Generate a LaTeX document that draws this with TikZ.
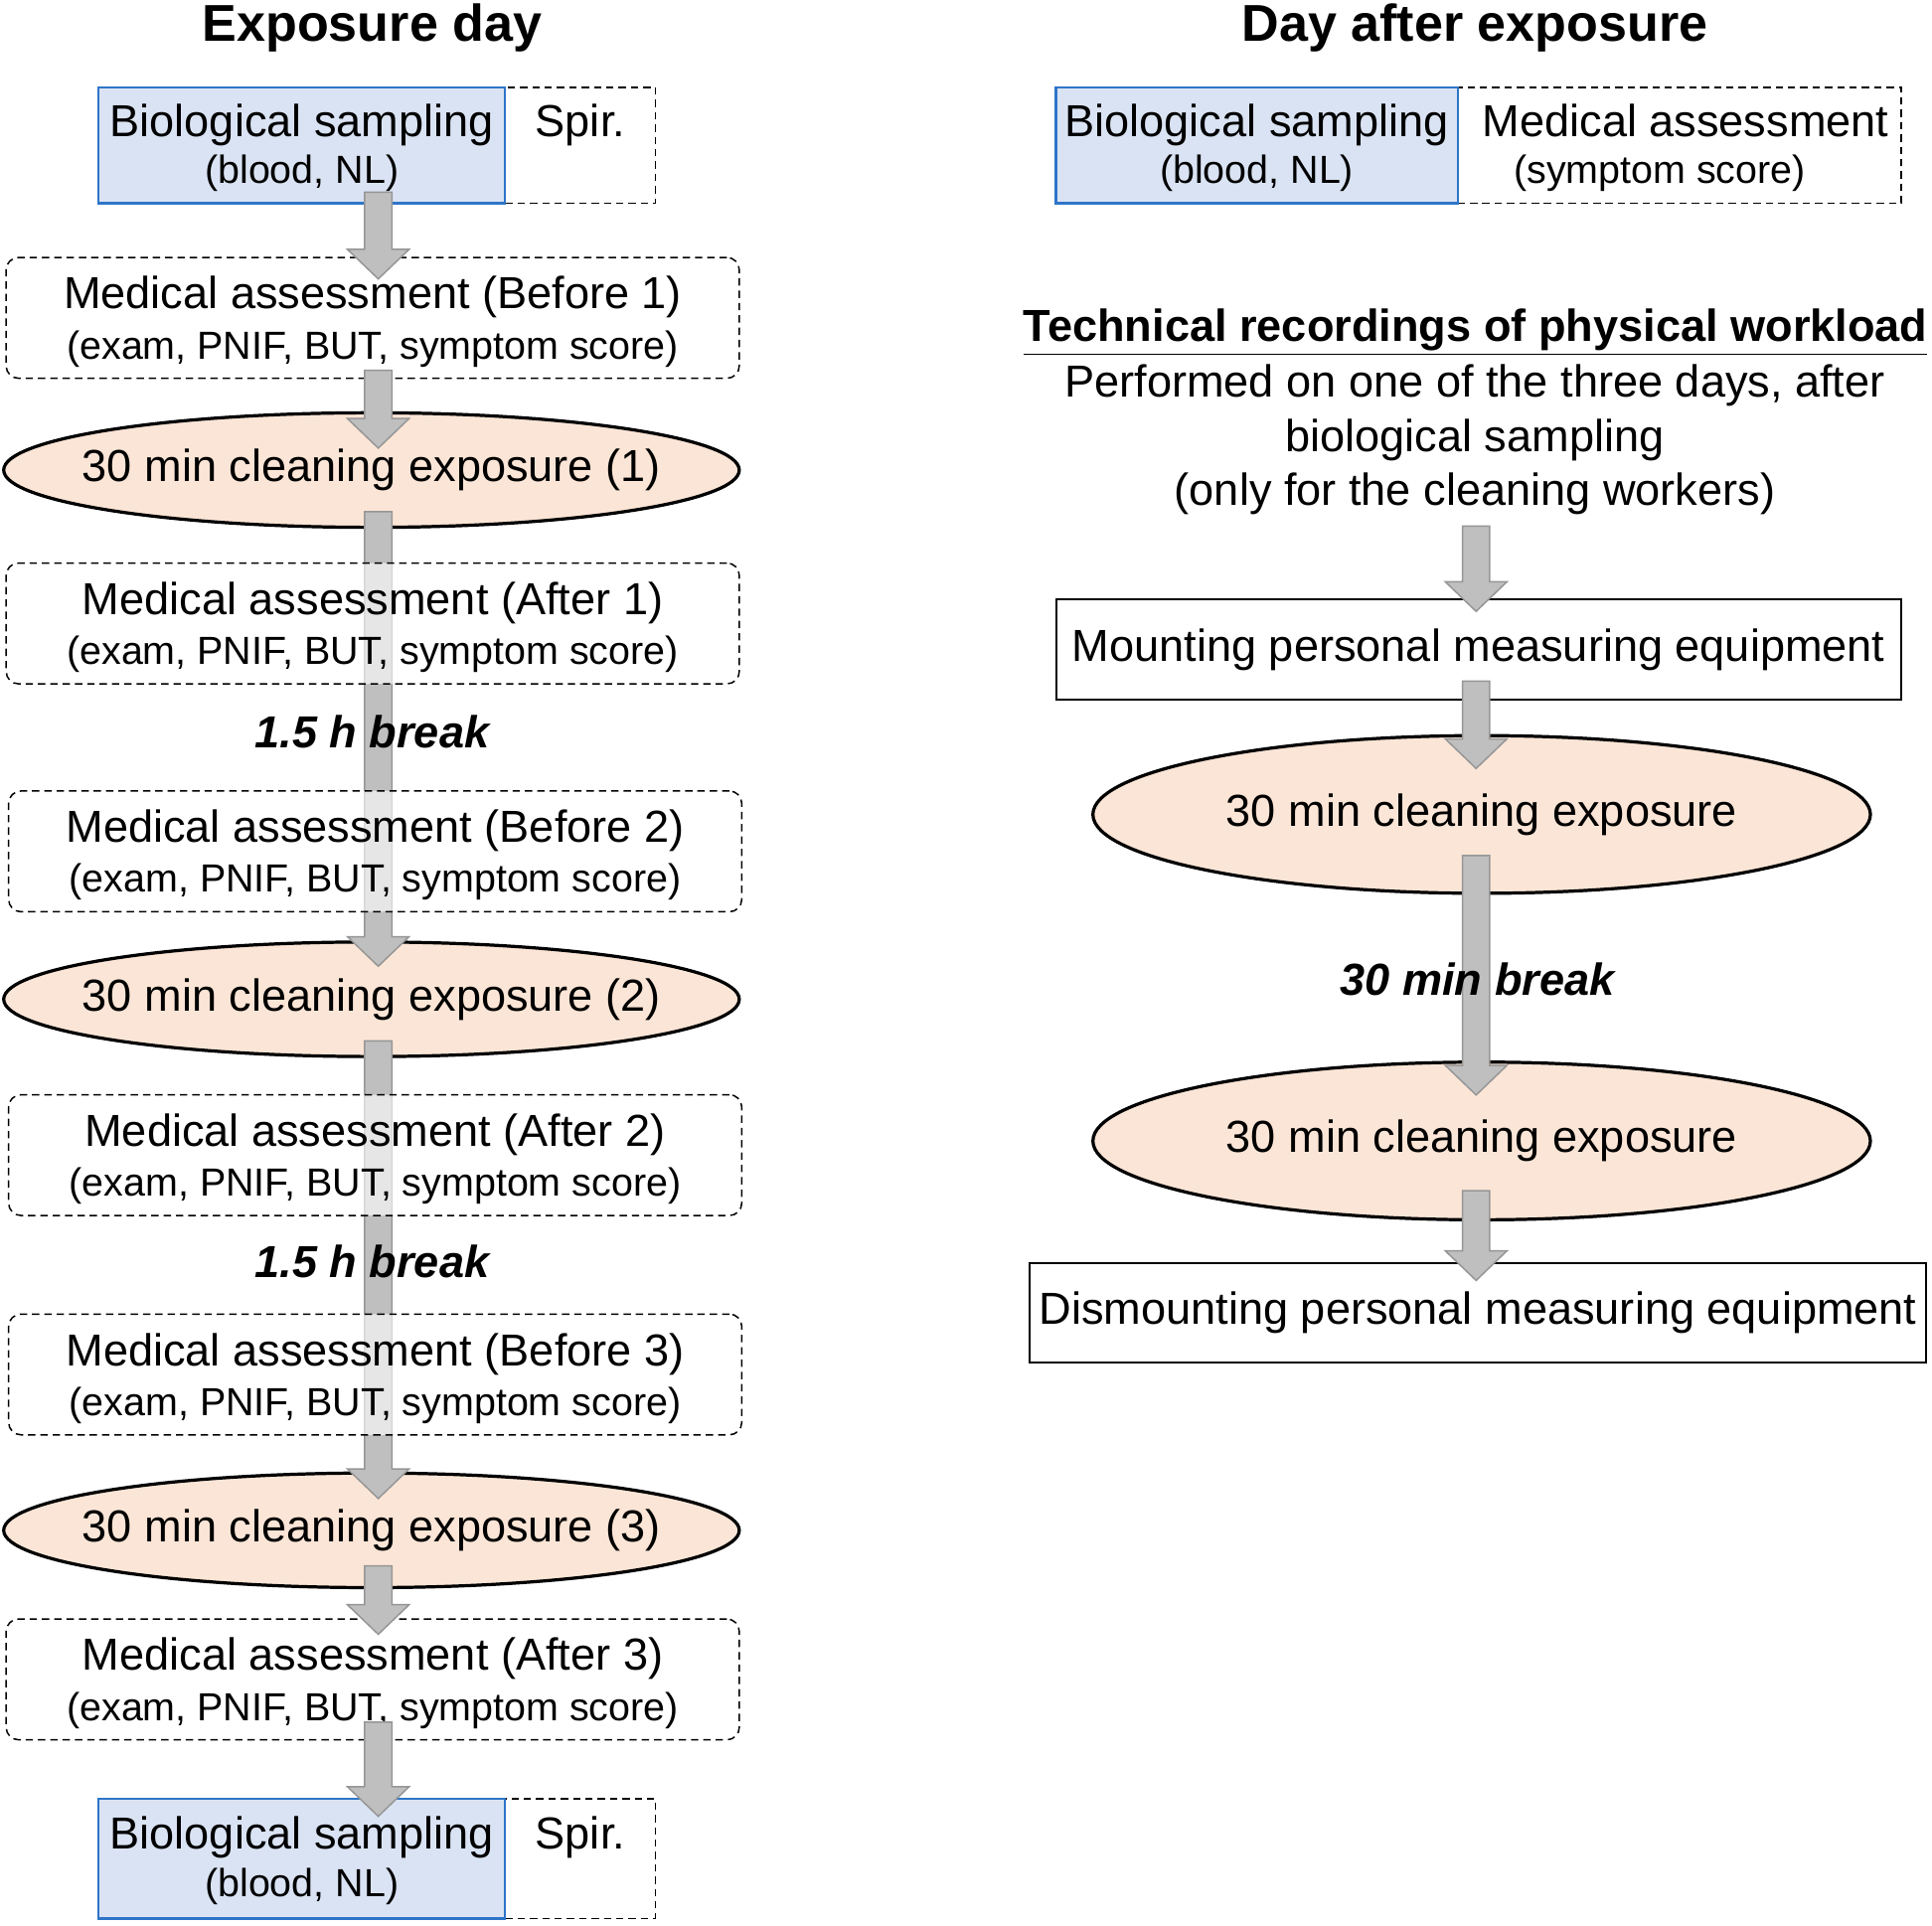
\documentclass[tikz,border=0pt]{standalone}
\usepackage{fontspec}
\setmainfont{Liberation Sans}
\usetikzlibrary{shapes.geometric,calc}
\definecolor{bluefill}{RGB}{218,227,243}
\definecolor{blueline}{RGB}{46,117,200}
\definecolor{peach}{RGB}{251,229,214}
\definecolor{arrfill}{RGB}{191,191,191}
\definecolor{arrline}{RGB}{150,150,150}
\newcommand{\mainsz}{\fontsize{18.2}{21.8}\selectfont}
\newcommand{\subsz}{\fontsize{15.9}{19}\selectfont}
\newcommand{\titlesz}{\fontsize{21}{25}\selectfont\bfseries}
\newcommand{\blockarrow}[2]{%
  \path[fill=arrfill, draw=arrline, line width=0.6pt] let \p1=(#1), \p2=(#2) in
  (\x1-5.5pt,\y1) -- (\x1+5.5pt,\y1) -- (\x1+5.5pt,\y2+12pt) -- (\x1+12.5pt,\y2+12pt)
  -- (\x1,\y2) -- (\x1-12.5pt,\y2+12pt) -- (\x1-5.5pt,\y2+12pt) -- cycle;}
\newcommand{\ellt}[1]{\makebox[0pt]{\raisebox{-1.5pt}{\mainsz #1}}}
\newcommand{\medtxt}[1]{\rule{0pt}{16.3pt}Medical assessment (#1)\\{\subsz (exam, PNIF, BUT, symptom score)}}
\tikzset{
  dashbox/.style={draw=black, dash pattern=on 3pt off 2pt, line width=0.6pt},
  twoline/.style={align=center, inner sep=0pt, font=\fontsize{18.2}{19.2}\selectfont},
  medbox/.style={dashbox, rounded corners=5pt, fill=white, fill opacity=0.62, text opacity=1,
    minimum width=297.5pt, minimum height=49pt, align=center, inner sep=0pt,
    font=\fontsize{18.2}{20.2}\selectfont},
  biobox/.style={draw=blueline, fill=bluefill, line width=0.9pt, twoline},
  expell/.style={ellipse, draw=black, fill=peach, line width=1.3pt, inner sep=0pt},
  solidbox/.style={draw=black, line width=0.8pt, inner sep=0pt, font=\mainsz},
  brk/.style={font=\mainsz\bfseries\itshape},
}
\begin{document}
\begin{tikzpicture}[x=0.5pt,y=-0.5pt]
\fill[white] (0,0) rectangle (1568,1563);
\useasboundingbox (0,0) rectangle (1568,1563);
\coordinate (cL) at (307,0);
\coordinate (cR) at (1198,0);

% titles
\node[font=\titlesz] (t1) at (302,23) {Exposure day};
\node[font=\titlesz] (t2) at (1197,23) {Day after exposure};

% ---------- left column background shapes
\node[dashbox, twoline, minimum width=61pt, minimum height=47pt] (spir1) at (471,118)
  {\rule{0pt}{15pt}Spir.\\{\subsz\vphantom{(b}}};
\node[biobox, minimum width=165pt, minimum height=47pt] (bio1) at (245,118)
  {\rule{0pt}{15pt}Biological sampling\\{\subsz (blood, NL)}};
\node[expell, minimum width=298.5pt, minimum height=46.5pt] (ell1) at (301.5,381.5)
  {\ellt{30 min cleaning exposure (1)}};
\node[expell, minimum width=298.5pt, minimum height=46.5pt] (ell2) at (301.5,811)
  {\ellt{30 min cleaning exposure (2)}};
\node[expell, minimum width=298.5pt, minimum height=46.5pt] (ell3) at (301.5,1242)
  {\ellt{30 min cleaning exposure (3)}};
\node[dashbox, twoline, minimum width=61pt, minimum height=48.5pt] (spir2) at (471,1508.5)
  {\rule{0pt}{15pt}Spir.\\{\subsz\vphantom{(b}}};
\node[biobox, minimum width=165pt, minimum height=48.5pt] (bio2) at (245,1508.5)
  {\rule{0pt}{15pt}Biological sampling\\{\subsz (blood, NL)}};

% long arrows (behind medical boxes)
\blockarrow{$(ell1.south -| cL)+(0,-14)$}{$(ell2.north -| cL)+(0,21)$}
\blockarrow{$(ell2.south -| cL)+(0,-14)$}{$(ell3.north -| cL)+(0,22)$}

% medical boxes
\node[medbox] (med1) at (302.5,258) {\medtxt{Before 1}};
\node[medbox] (med2) at (302.5,506) {\medtxt{After 1}};
\node[medbox] (med3) at (304.5,691) {\medtxt{Before 2}};
\node[medbox] (med4) at (304.5,937.5) {\medtxt{After 2}};
\node[medbox] (med5) at (304.5,1115.5) {\medtxt{Before 3}};
\node[medbox] (med6) at (302.5,1363) {\medtxt{After 3}};

% short arrows
\blockarrow{$(bio1.south -| cL)+(0,-10)$}{$(med1.north -| cL)+(0,18)$}
\blockarrow{$(med1.south -| cL)+(0,-7)$}{$(ell1.north -| cL)+(0,30)$}
\blockarrow{$(ell3.south -| cL)+(0,-19)$}{$(med6.north -| cL)+(0,13)$}
\blockarrow{$(med6.south -| cL)+(0,-15)$}{$(bio2.north -| cL)+(0,15)$}

\node[brk] (brk1) at (302,594) {1.5 h break};
\node[brk] (brk2) at (302,1024) {1.5 h break};

% ---------- right column
\node[dashbox, twoline, minimum width=180pt, minimum height=47pt] (medR) at (1363,118)
  {\rule{0pt}{15pt}\hspace*{5pt}Medical assessment\\{\subsz (symptom score)\hspace*{16pt}}};
\node[biobox, minimum width=163pt, minimum height=47pt] (bioR) at (1020,118)
  {\rule{0pt}{15pt}Biological sampling\\{\subsz (blood, NL)}};

\node[font=\mainsz\bfseries, inner sep=0pt] (tech) at (1197.5,270) {\underline{Technical recordings of physical workload}};
\node[font=\mainsz, inner sep=0pt] (perf) at (1197,313) {Performed on one of the three days, after};
\node[font=\mainsz, inner sep=0pt] (biol) at (1197,357) {biological sampling};
\node[font=\mainsz, inner sep=0pt] (only) at (1197,401) {(only for the cleaning workers)};
\coordinate (r1s) at (1198,427);

\node[solidbox, minimum width=343pt, minimum height=41pt] (mount) at (1200,527) {\raisebox{-1.5pt}{Mounting personal measuring equipment}};
\node[expell, minimum width=315.5pt, minimum height=64pt] (ellR1) at (1202.5,661)
  {\ellt{30 min cleaning exposure}};
\node[expell, minimum width=315.5pt, minimum height=64pt] (ellR2) at (1202.5,926)
  {\ellt{30 min cleaning exposure}};
\node[solidbox, minimum width=363.5pt, minimum height=40.5pt] (dismount) at (1199.5,1065.5) {Dismounting personal measuring equipment};

\blockarrow{r1s}{$(mount.north -| cR)+(0,11)$}
\blockarrow{$(mount.south -| cR)+(0,-16)$}{$(ellR1.north -| cR)+(0,28)$}
\blockarrow{$(ellR1.south -| cR)+(0,-32)$}{$(ellR2.north -| cR)+(0,28)$}
\blockarrow{$(ellR2.south -| cR)+(0,-25)$}{$(dismount.north -| cR)+(0,15)$}

\node[brk] (brk3) at (1199,795) {30 min break};
\end{tikzpicture}
\end{document}
